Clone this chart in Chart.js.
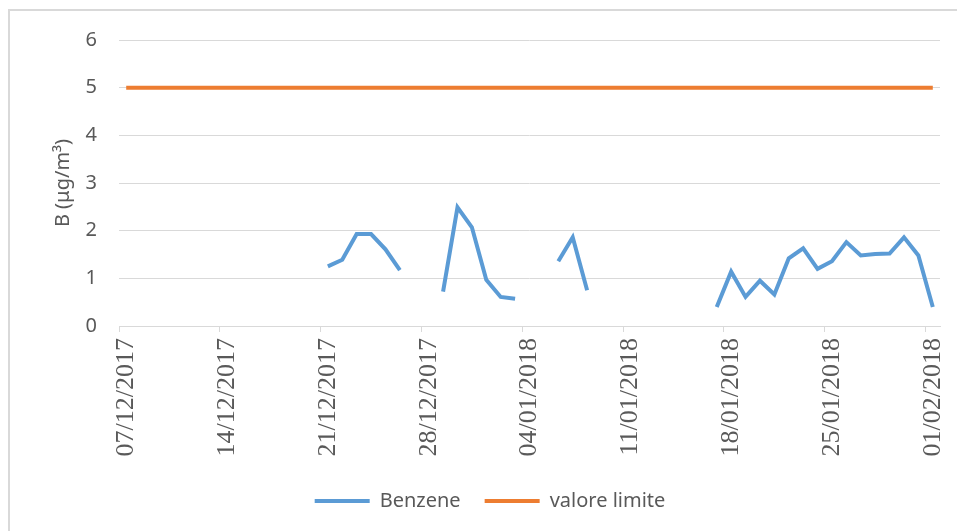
<!DOCTYPE html>
<html>
<head>
<meta charset="utf-8">
<script src="https://cdn.jsdelivr.net/npm/chart.js@4"></script>
<style>
  html, body { margin: 0; padding: 0; background: #fff; overflow: hidden; }
  #wrap { position: relative; width: 957px; height: 531px; }
  #frame { position: absolute; left: 8px; top: 9px; width: 980px; height: 560px; border: 2px solid #d9d9d9; box-sizing: border-box; }
  canvas { position: absolute; left: 0; top: 0; }
</style>
</head>
<body>
<div id="wrap">
  <div id="frame"></div>
  <canvas id="benzene-chart" width="957" height="531"></canvas>
</div>
<script>
const days = [
  '07/12/2017', '08/12/2017', '09/12/2017', '10/12/2017', '11/12/2017', '12/12/2017', '13/12/2017',
  '14/12/2017', '15/12/2017', '16/12/2017', '17/12/2017', '18/12/2017', '19/12/2017', '20/12/2017',
  '21/12/2017', '22/12/2017', '23/12/2017', '24/12/2017', '25/12/2017', '26/12/2017', '27/12/2017',
  '28/12/2017', '29/12/2017', '30/12/2017', '31/12/2017', '01/01/2018', '02/01/2018', '03/01/2018',
  '04/01/2018', '05/01/2018', '06/01/2018', '07/01/2018', '08/01/2018', '09/01/2018', '10/01/2018',
  '11/01/2018', '12/01/2018', '13/01/2018', '14/01/2018', '15/01/2018', '16/01/2018', '17/01/2018',
  '18/01/2018', '19/01/2018', '20/01/2018', '21/01/2018', '22/01/2018', '23/01/2018', '24/01/2018',
  '25/01/2018', '26/01/2018', '27/01/2018', '28/01/2018', '29/01/2018', '30/01/2018', '31/01/2018',
  '01/02/2018'
];

// benzene daily averages, null where no measurement
const benzene = [
  null, null, null, null, null, null, null,
  null, null, null, null, null, null, null,
  1.25, 1.39, 1.93, 1.93, 1.61, 1.17, null,
  null, 0.72, 2.49, 2.07, 0.97, 0.61, 0.57,
  null, null, 1.36, 1.86, 0.75, null, null,
  null, null, null, null, null, null, 0.40,
  1.14, 0.61, 0.95, 0.66, 1.42, 1.63, 1.20,
  1.36, 1.76, 1.48, 1.51, 1.52, 1.86, 1.48,
  0.40
];

const limitValue = [
  5, 5, 5, 5, 5, 5, 5, 5, 5, 5, 5, 5, 5, 5, 5, 5, 5, 5, 5,
  5, 5, 5, 5, 5, 5, 5, 5, 5, 5, 5, 5, 5, 5, 5, 5, 5, 5, 5,
  5, 5, 5, 5, 5, 5, 5, 5, 5, 5, 5, 5, 5, 5, 5, 5, 5, 5, 5
];

const yTicks = [0, 1, 2, 3, 4, 5, 6];

const grey = '#595959';
const gridGrey = '#d9d9d9';
const sans = '"Noto Sans", sans-serif';

const canvas = document.getElementById('benzene-chart');
new Chart(canvas, {
  type: 'line',
  data: {
    labels: days,
    datasets: [
      {
        label: 'Benzene',
        data: benzene,
        borderColor: '#5b9bd5',
        backgroundColor: '#5b9bd5',
        borderWidth: 4,
        pointRadius: 0,
        spanGaps: false,
        tension: 0
      },
      {
        label: 'valore limite',
        data: limitValue,
        borderColor: '#ed7d31',
        backgroundColor: '#ed7d31',
        borderWidth: 4,
        pointRadius: 0,
        tension: 0
      }
    ]
  },
  options: {
    responsive: false,
    animation: false,
    layout: {
      padding: { left: 40, top: 40, right: 17, bottom: 10 }
    },
    scales: {
      x: {
        offset: true,
        grid: {
          offset: true,
          drawOnChartArea: false,
          drawTicks: true,
          tickLength: 6,
          color: ctx => (ctx.index % 7 === 0 ? gridGrey : 'rgba(0,0,0,0)')
        },
        border: { color: gridGrey, width: 1 },
        ticks: {
          autoSkip: false,
          minRotation: 90,
          maxRotation: 90,
          padding: 6,
          color: grey,
          font: { family: '"Liberation Serif", serif', size: 26 },
          callback: (value, index) => (index % 7 === 0 ? days[index] : '')
        },
        afterFit: scale => {
          scale.height = 141;
          scale.paddingLeft = 0;
          scale.paddingRight = 0;
        }
      },
      y: {
        min: 0,
        max: 6,
        afterBuildTicks: scale => { scale.ticks = yTicks.map(v => ({ value: v })); },
        grid: { color: gridGrey, lineWidth: 1, drawTicks: false },
        border: { display: false },
        ticks: {
          padding: 22,
          color: grey,
          font: { family: sans, size: 20 }
        },
        title: {
          display: true,
          text: 'B (μg/m³)',
          color: grey,
          padding: 11,
          font: { family: sans, size: 20 }
        },
        afterFit: scale => { scale.width = 79; }
      }
    },
    plugins: {
      legend: {
        position: 'bottom',
        labels: {
          boxWidth: 55,
          boxHeight: 4,
          padding: 24,
          color: grey,
          font: { family: sans, size: 20 },
          generateLabels: chart => Chart.defaults.plugins.legend.labels.generateLabels(chart)
            .map(item => Object.assign(item, { lineWidth: 0 }))
        }
      },
      tooltip: { enabled: false }
    }
  }
});
</script>
</body>
</html>
